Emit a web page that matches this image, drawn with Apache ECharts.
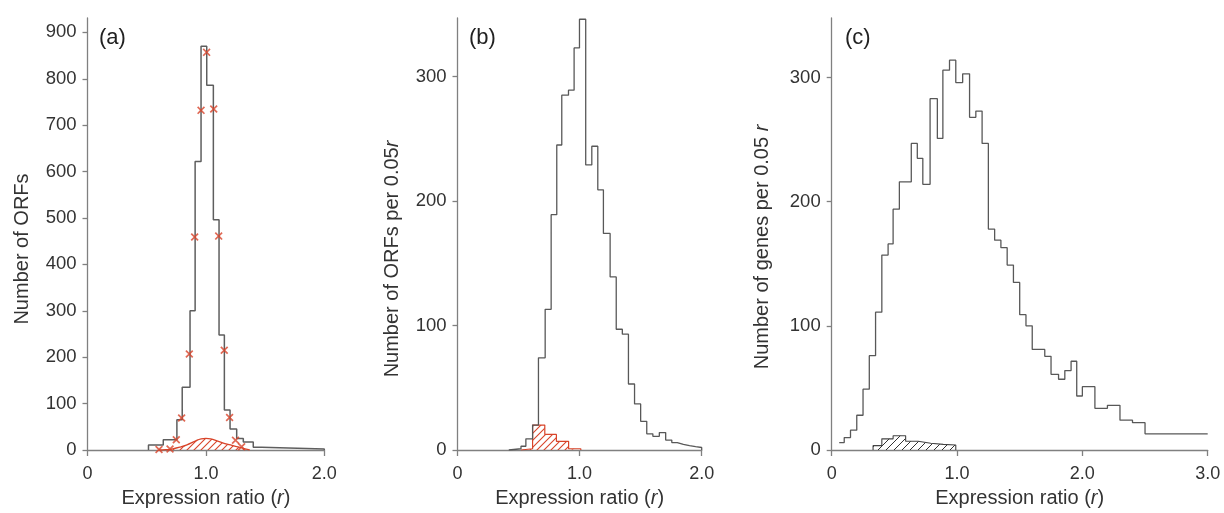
<!DOCTYPE html>
<html>
<head>
<meta charset="utf-8">
<script src="https://cdn.jsdelivr.net/npm/echarts@6/dist/echarts.min.js"></script>
<style>
html,body{margin:0;padding:0;background:#fff;}
#chart{width:1224px;height:513px;}
</style>
</head>
<body>
<div id="chart"></div>
<script>
// ---------- Data ----------
// Panel (a): histogram bin edges and counts
const aEdges = [0.515,0.64,0.755,0.80,0.866,0.909,0.959,1.007,1.063,1.111,1.156,1.204,1.26,1.316,1.40,1.47,2.0];
const aCounts = [11,22,65,135,300,622,870,786,496,248,86,45,25,17,6,2];
// Panel (a): red cross markers
const aMarkX = [0.604,0.697,0.75,0.795,0.86,0.905,0.959,1.006,1.066,1.108,1.155,1.2,1.25,1.302];
const aMarkY = [1,2,22,69,207,459,732,857,735,461,215,70,21,7];
// Panel (a): red hatched curve
const aCurveX = [0.60,0.66,0.72,0.78,0.84,0.90,0.96,1.0,1.04,1.10,1.16,1.22,1.28,1.33,1.37];
const aCurveY = [0,0.5,2.5,6,11,18,24,25,24,19,14,10,6,2.5,0];

// Panel (b)
const bEdges = [0.42,0.52,0.56,0.615,0.663,0.718,0.767,0.813,0.854,0.909,0.955,0.999,1.05,1.10,1.149,1.195,1.25,1.30,1.35,1.40,1.45,1.50,1.55,1.60,1.653,1.705,1.755,1.80,1.85,1.90,1.95,2.0];
const bCounts = [1,3,9,20,74,113,189,245,285,289,323,346,229,244,209,174,139,97,93,53,37,23,13,11,14,8,6,4.5,3.5,2.7,2];
const bRedEdges = [0.52,0.615,0.715,0.81,0.91,1.01];
const bRedCounts = [1,20,12.5,7,1];

// Panel (c)
const cEdges = [0.06,0.10,0.15,0.20,0.25,0.30,0.35,0.40,0.45,0.49,0.54,0.635,0.683,0.727,0.785,0.843,0.887,0.94,0.99,1.045,1.10,1.15,1.20,1.25,1.30,1.35,1.40,1.45,1.50,1.55,1.60,1.70,1.75,1.81,1.86,1.91,1.955,2.0,2.1,2.2,2.3,2.4,2.5,3.0];
const cCounts = [6,10,16,28,49,76,111,157,166,194,216,247,235,214,283,251,306,314,296,303,268,273,247,178,169,163,149,135,109,100,81,75.5,61,57,64,71.5,43.5,51,33.6,36,24,22,13];
const cHatchEdges = [0.33,0.40,0.49,0.59,0.69,0.79,0.89,0.99];
const cHatchCounts = [3.5,9,11.5,7,5.5,4.5,4];

// Tick values
const xTicksAB = [0,1,2];
const xTicksC = [0,1,2,3];
const yTicksA = [0,100,200,300,400,500,600,700,800,900];
const yTicksBC = [0,100,200,300];

// ---------- Helpers ----------
function stepPoints(edges, counts, dropStart, dropEnd) {
  const pts = [];
  if (dropStart) pts.push([edges[0], 0]);
  for (let i = 0; i < counts.length; i++) pts.push([edges[i], counts[i]]);
  pts.push([edges[edges.length - 1], counts[counts.length - 1]]);
  if (dropEnd) pts.push([edges[edges.length - 1], 0]);
  return pts;
}
function hatch(color, size, lw) {
  const c = document.createElement('canvas');
  c.width = size; c.height = size;
  const ctx = c.getContext('2d');
  ctx.strokeStyle = color; ctx.lineWidth = lw;
  ctx.beginPath();
  ctx.moveTo(-1, size + 1); ctx.lineTo(size + 1, -1);
  ctx.moveTo(-size / 2 - 1, size / 2 + 1); ctx.lineTo(size / 2 + 1, -size / 2 - 1);
  ctx.moveTo(size / 2 - 1, size * 1.5 + 1); ctx.lineTo(size * 1.5 + 1, size / 2 - 1);
  ctx.stroke();
  return c;
}

const RED = '#d8442a';
const GRAY = '#585858';
const AXIS = '#808080';
const TXT = '#333333';
const FONT = "'Liberation Sans', Arial, Helvetica, sans-serif";

const chart = echarts.init(document.getElementById('chart'), null, {renderer: 'canvas'});

function xAxisCfg(idx, max, ticks) {
  return {
    gridIndex: idx, type: 'value', min: 0, max: max,
    name: 'Expression ratio ({i|r})', nameLocation: 'middle', nameGap: 38,
    nameTextStyle: {fontFamily: FONT, fontSize: 20, color: TXT,
      rich: {i: {fontFamily: FONT, fontSize: 20, color: TXT, fontStyle: 'italic'}}},
    axisLine: {show: true, lineStyle: {color: AXIS, width: 1.3}},
    axisTick: {show: true, length: 6, lineStyle: {color: AXIS, width: 1.3}, customValues: ticks},
    axisLabel: {customValues: ticks, margin: 15, fontFamily: FONT, fontSize: 18, color: TXT,
      formatter: v => v === 0 ? '0' : v.toFixed(1)},
    splitLine: {show: false}
  };
}
function yAxisCfg(idx, max, ticks, name, gap, shift) {
  return {
    gridIndex: idx, type: 'value', min: 0, max: max,
    name: name, nameLocation: 'middle', nameGap: gap, nameRotate: 90,
    nameTextStyle: {fontFamily: FONT, fontSize: 20, color: TXT, padding: [0, shift, 0, 0],
      rich: {i: {fontFamily: FONT, fontSize: 20, color: TXT, fontStyle: 'italic'}}},
    axisLine: {show: true, lineStyle: {color: AXIS, width: 1.3}},
    axisTick: {show: true, length: 5, lineStyle: {color: AXIS, width: 1.3}, customValues: ticks},
    axisLabel: {customValues: ticks, margin: 11, fontFamily: FONT, fontSize: 18.5, color: TXT},
    splitLine: {show: false}
  };
}
function stepSeries(idx, data, color, width, fill) {
  const s = {
    type: 'line', xAxisIndex: idx, yAxisIndex: idx, step: 'end', data: data,
    symbol: 'none', silent: true, animation: false,
    lineStyle: {color: color, width: width}
  };
  if (fill) s.areaStyle = {color: {image: fill, repeat: 'repeat'}, opacity: 1};
  return s;
}

const option = {
  animation: false,
  backgroundColor: '#ffffff',
  grid: [
    {left: 87.5, top: 18, width: 236.8, height: 434.5},
    {left: 457.5, top: 18, width: 244.2, height: 434.5},
    {left: 831.7, top: 18, width: 376, height: 434.5}
  ],
  xAxis: [
    xAxisCfg(0, 2, xTicksAB),
    xAxisCfg(1, 2, xTicksAB),
    xAxisCfg(2, 3, xTicksC)
  ],
  yAxis: [
    yAxisCfg(0, 931, yTicksA, 'Number of ORFs', 55, 30),
    yAxisCfg(1, 347, yTicksBC, 'Number of ORFs per 0.05{i|r}', 55, 50),
    yAxisCfg(2, 348, yTicksBC, 'Number of genes per 0.05 {i|r}', 59, 26)
  ],
  graphic: [
    {type: 'text', left: 99, top: 27, style: {text: '(a)', font: "22px 'Liberation Sans', Arial", fill: '#222'}},
    {type: 'text', left: 469, top: 27, style: {text: '(b)', font: "22px 'Liberation Sans', Arial", fill: '#222'}},
    {type: 'text', left: 845, top: 27, style: {text: '(c)', font: "22px 'Liberation Sans', Arial", fill: '#222'}}
  ],
  series: [
    // (a) red hatched curve
    {
      type: 'line', xAxisIndex: 0, yAxisIndex: 0, smooth: true, symbol: 'none', silent: true,
      data: aCurveX.map((x, i) => [x, aCurveY[i]]),
      lineStyle: {color: RED, width: 1.3},
      areaStyle: {color: {image: hatch(RED, 7, 1.1), repeat: 'repeat'}, opacity: 1}
    },
    stepSeries(0, stepPoints(aEdges, aCounts, true, true), '#5e5e5e', 1.5, null),
    {
      type: 'scatter', xAxisIndex: 0, yAxisIndex: 0, silent: true, z: 5,
      data: aMarkX.map((x, i) => [x, aMarkY[i]]),
      symbol: 'path://M0,1.5 L1.5,0 L5,3.5 L8.5,0 L10,1.5 L6.5,5 L10,8.5 L8.5,10 L5,6.5 L1.5,10 L0,8.5 L3.5,5 Z',
      symbolSize: 8,
      itemStyle: {color: RED}
    },
    // (b)
    stepSeries(1, stepPoints(bRedEdges, bRedCounts, true, true), RED, 1.2, hatch(RED, 7, 1.1)),
    stepSeries(1, stepPoints(bEdges, bCounts, true, true), GRAY, 1.3, null),
    // (c)
    stepSeries(2, stepPoints(cHatchEdges, cHatchCounts, true, true), '#444444', 1.1, hatch('#333333', 8, 1.0)),
    stepSeries(2, stepPoints(cEdges, cCounts, false, false), GRAY, 1.3, null)
  ]
};
chart.setOption(option);
</script>
</body>
</html>
